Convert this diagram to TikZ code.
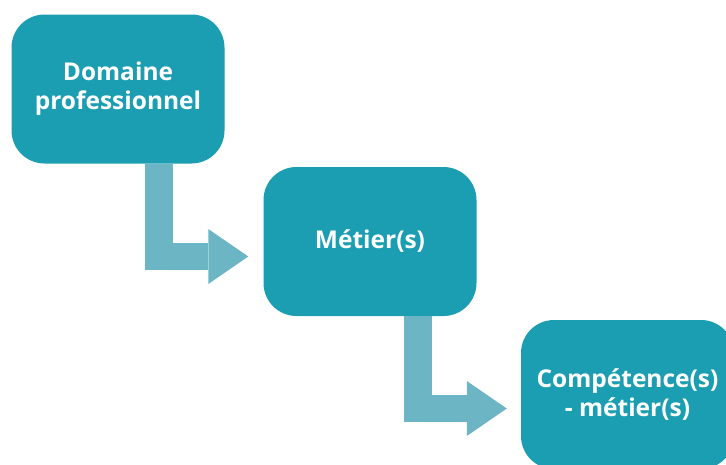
\documentclass[tikz,border=0pt]{standalone}
\usepackage{fontspec}
\setmainfont{Open Sans}
\usetikzlibrary{arrows.meta}
\definecolor{myTeal}{RGB}{27,157,178}
\definecolor{myLight}{RGB}{108,181,197}

\begin{document}
\begin{tikzpicture}[x=1pt, y=-1pt,
  box/.style={fill=myTeal, rounded corners=33pt, minimum width=213pt,
    minimum height=149pt, inner sep=0pt, align=center, text=white,
    font=\fontsize{24.5}{29}\selectfont\bfseries},
  flow/.style={draw=myLight, line width=27.5pt,
    -{Triangle[length=40pt, width=55pt, line width=0pt]}},
]
  \useasboundingbox (0,0) rectangle (726,464);
  \node[box] (dom)  at (118,89)      {Domaine\\professionnel};
  \node[box] (met)  at (370,241.5)   {Métier(s)};
  \node[box] (comp) at (627.5,394.5) {Compétence(s)\\- métier(s)};
  % bent arrows between the boxes
  \draw[flow] ([xshift=41pt]dom.south) |- ([xshift=-15pt, yshift=-15pt]met.west);
  \draw[flow] ([xshift=48pt]met.south) |- ([xshift=-14pt, yshift=-14pt]comp.west);
\end{tikzpicture}
\end{document}
